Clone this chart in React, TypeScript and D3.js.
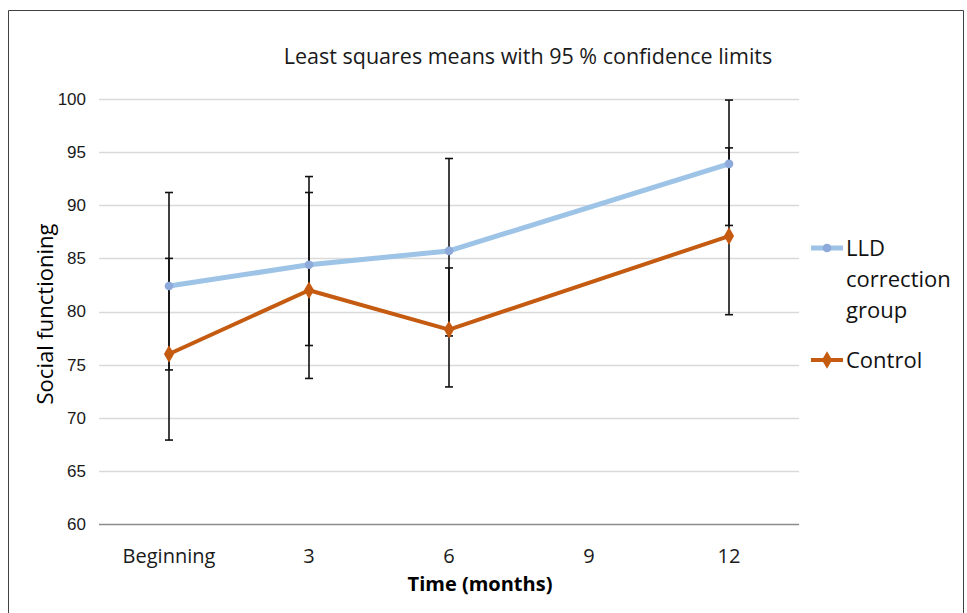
import React, { useEffect, useRef } from "react";
import * as d3 from "d3";

// categories on the x axis
const timePoints = ["Beginning", "3", "6", "9", "12"];

// least squares means (null = no measurement)
const lldMeans = [82.4, 84.4, 85.7, null, 93.9];
const controlMeans = [76.0, 82.0, 78.3, null, 87.1];

// 95 % confidence limits
const lldLower = [74.5, 76.8, 77.7, null, 88.1];
const lldUpper = [91.2, 92.7, 94.4, null, 99.9];
const controlLower = [67.9, 73.7, 72.9, null, 79.7];
const controlUpper = [85.0, 91.2, 84.1, null, 95.4];

const yTicks = [60, 65, 70, 75, 80, 85, 90, 95, 100];

const App = () => {
  const svgRef = useRef<SVGSVGElement>(null);

  useEffect(() => {
    const root = d3.select(svgRef.current);
    root.selectAll("*").remove();

    const width = 967;
    const height = 613;
    const plot = { left: 99, right: 799, top: 99, bottom: 524 };

    root.attr("width", width).attr("height", height);

    // outer frame
    root
      .append("path")
      .attr("d", `M8.5,${height + 5} V10.5 H963.5 V${height + 5}`)
      .attr("fill", "none")
      .attr("stroke", "#404040")
      .attr("stroke-width", 1);

    const x = d3
      .scaleBand()
      .domain(timePoints)
      .range([plot.left, plot.right]);
    const y = d3.scaleLinear().domain([60, 100]).range([plot.bottom, plot.top]);
    const cx = (d: string) => (x(d) as number) + x.bandwidth() / 2;

    // gridlines
    root
      .append("g")
      .selectAll("line")
      .data(yTicks.filter((t) => t !== 60))
      .join("line")
      .attr("x1", plot.left)
      .attr("x2", plot.right)
      .attr("y1", (d) => Math.round(y(d)) + 0.5)
      .attr("y2", (d) => Math.round(y(d)) + 0.5)
      .attr("stroke", "#d9d9d9")
      .attr("stroke-width", 1.5);

    // x axis line
    root
      .append("line")
      .attr("x1", plot.left)
      .attr("x2", plot.right)
      .attr("y1", plot.bottom + 0.5)
      .attr("y2", plot.bottom + 0.5)
      .attr("stroke", "#8c8c8c")
      .attr("stroke-width", 1.5);

    // y tick labels
    root
      .append("g")
      .selectAll("text")
      .data(yTicks)
      .join("text")
      .attr("x", 86)
      .attr("y", (d) => y(d))
      .attr("dy", "0.35em")
      .attr("text-anchor", "end")
      .attr("font-family", "Liberation Sans, Arial, sans-serif")
      .attr("font-size", 17)
      .attr("fill", "#1a1a1a")
      .text((d) => d);

    // x tick labels
    root
      .append("g")
      .selectAll("text")
      .data(timePoints)
      .join("text")
      .attr("x", (d) => cx(d))
      .attr("y", 563)
      .attr("text-anchor", "middle")
      .attr("font-family", "Open Sans, sans-serif")
      .attr("font-size", 20)
      .attr("fill", "#1a1a1a")
      .text((d) => d);

    // axis titles
    root
      .append("text")
      .attr("x", 480)
      .attr("y", 591)
      .attr("text-anchor", "middle")
      .attr("font-family", "Open Sans, sans-serif")
      .attr("font-weight", "bold")
      .attr("font-size", 20)
      .text("Time (months)");

    root
      .append("text")
      .attr("transform", "translate(53,314) rotate(-90)")
      .attr("text-anchor", "middle")
      .attr("font-family", "Open Sans, sans-serif")
      .attr("font-size", 22)
      .text("Social functioning");

    root
      .append("text")
      .attr("x", 528)
      .attr("y", 64)
      .attr("text-anchor", "middle")
      .attr("font-family", "Open Sans, sans-serif")
      .attr("font-size", 21.5)
      .attr("fill", "#1a1a1a")
      .text("Least squares means with 95 % confidence limits");

    const series = [
      {
        name: "LLD",
        means: lldMeans,
        lower: lldLower,
        upper: lldUpper,
        line: "#9dc3e6",
        marker: "#8eaadb",
        width: 5,
        shape: d3.symbolCircle,
        size: 60,
      },
      {
        name: "Control",
        means: controlMeans,
        lower: controlLower,
        upper: controlUpper,
        line: "#c55a11",
        marker: "#c55a11",
        width: 4,
        shape: d3.symbolDiamond,
        size: 90,
      },
    ];

    const lineGen = d3
      .line<{ t: string; v: number }>()
      .x((d) => cx(d.t))
      .y((d) => y(d.v));

    // error bars (drawn under lines)
    series.forEach((s) => {
      const bars = timePoints
        .map((t, i) => ({ t, lo: s.lower[i], hi: s.upper[i] }))
        .filter((d) => d.lo !== null && d.hi !== null) as {
        t: string;
        lo: number;
        hi: number;
      }[];
      const g = root.append("g").attr("stroke", "#111").attr("stroke-width", 1.6);
      g.selectAll("line.v")
        .data(bars)
        .join("line")
        .attr("x1", (d) => cx(d.t))
        .attr("x2", (d) => cx(d.t))
        .attr("y1", (d) => y(d.lo))
        .attr("y2", (d) => y(d.hi));
      g.selectAll("line.lo")
        .data(bars)
        .join("line")
        .attr("x1", (d) => cx(d.t) - 4)
        .attr("x2", (d) => cx(d.t) + 4)
        .attr("y1", (d) => y(d.lo))
        .attr("y2", (d) => y(d.lo));
      g.selectAll("line.hi")
        .data(bars)
        .join("line")
        .attr("x1", (d) => cx(d.t) - 4)
        .attr("x2", (d) => cx(d.t) + 4)
        .attr("y1", (d) => y(d.hi))
        .attr("y2", (d) => y(d.hi));
    });

    // lines + markers
    series.forEach((s) => {
      const pts = timePoints
        .map((t, i) => ({ t, v: s.means[i] }))
        .filter((d) => d.v !== null) as { t: string; v: number }[];
      root
        .append("path")
        .datum(pts)
        .attr("d", lineGen)
        .attr("fill", "none")
        .attr("stroke", s.line)
        .attr("stroke-width", s.width)
        .attr("stroke-linejoin", "round");
      root
        .append("g")
        .selectAll("path")
        .data(pts)
        .join("path")
        .attr("transform", (d) => `translate(${cx(d.t)},${y(d.v)})`)
        .attr("d", d3.symbol().type(s.shape).size(s.size))
        .attr("fill", s.marker);
    });

    // legend
    const legend = [
      { s: series[0], y: 248, lines: ["LLD", "correction", "group"] },
      { s: series[1], y: 360, lines: ["Control"] },
    ];
    legend.forEach((l) => {
      const g = root.append("g");
      g.append("line")
        .attr("x1", 811)
        .attr("x2", 843)
        .attr("y1", l.y)
        .attr("y2", l.y)
        .attr("stroke", l.s.line)
        .attr("stroke-width", l.s.width);
      g.append("path")
        .attr("transform", `translate(827,${l.y})`)
        .attr("d", d3.symbol().type(l.s.shape).size(l.s.size)())
        .attr("fill", l.s.marker);
      g.selectAll("text")
        .data(l.lines)
        .join("text")
        .attr("x", 846)
        .attr("y", (d, i) => l.y + i * 31)
        .attr("dy", "0.36em")
        .attr("font-family", "Open Sans, sans-serif")
        .attr("font-size", 22)
        .attr("fill", "#111")
        .text((d) => d);
    });
  }, []);

  return <svg ref={svgRef} style={{ position: "absolute", left: 0, top: 0 }} />;
};

export default App;
